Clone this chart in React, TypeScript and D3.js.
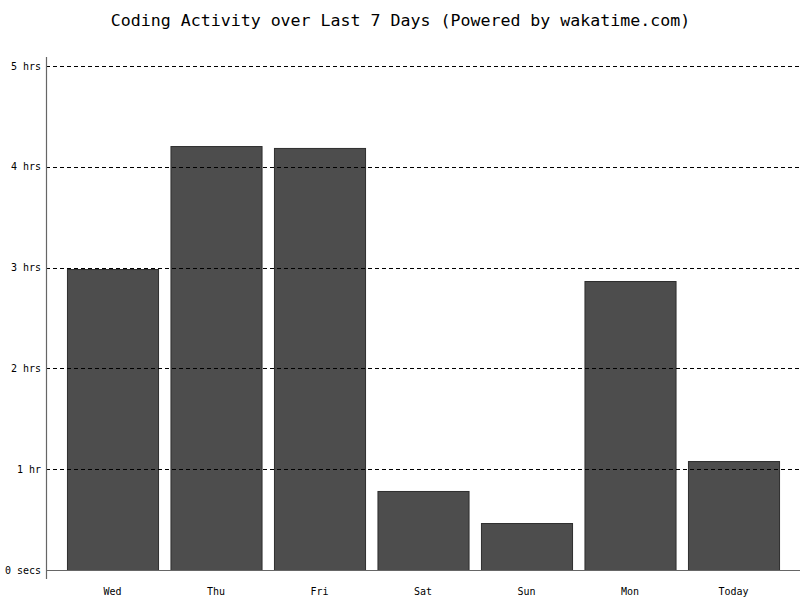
import React from "react";
import * as d3 from "d3";

const categories = ["Wed", "Thu", "Fri", "Sat", "Sun", "Mon", "Today"];
const hours = [2.986, 4.206, 4.187, 0.784, 0.466, 2.867, 1.081];
const tickValues = [0, 1, 2, 3, 4, 5];
const tickLabels = ["0 secs", "1 hr", "2 hrs", "3 hrs", "4 hrs", "5 hrs"];

const W = 800, H = 600;
const left = 46, right = 800, top = 66, bottom = 570;
const font = "'DejaVu Sans Mono', monospace";

export default function App() {
  const x = d3.scaleBand<string>().domain(categories).range([left, right]).paddingInner(0.12).paddingOuter(0.2025);
  const y = d3.scaleLinear().domain([0, 5]).range([bottom, top]);
  return (
    <svg width={W} height={H} style={{ position: "absolute", left: 0, top: 0 }}>
      <rect width={W} height={H} fill="#fff" />
      <text x={400.5} y={26} textAnchor="middle" fontFamily={font} fontSize={16.6} fill="#000">
        Coding Activity over Last 7 Days (Powered by wakatime.com)
      </text>
      {categories.map((c, i) => (
        <rect key={c} x={x(c)! + 0.5} y={y(hours[i]) + 0.5} width={x.bandwidth()} height={bottom - y(hours[i])}
          fill="#4d4d4d" stroke="#2e2e2e" strokeWidth={1} />
      ))}
      {tickValues.slice(1).map((t) => (
        <line key={t} x1={left} x2={right} y1={Math.round(y(t)) + 0.5} y2={Math.round(y(t)) + 0.5}
          stroke="#000" strokeWidth={1} strokeDasharray="4,3" />
      ))}
      <line x1={left} x2={right} y1={bottom + 0.5} y2={bottom + 0.5} stroke="#666" strokeWidth={1.2} />
      <line x1={left + 0.5} x2={left + 0.5} y1={57} y2={579} stroke="#666" strokeWidth={1.2} />
      {tickValues.map((t, i) => (
        <text key={t} x={41} y={y(t) + 3.5} textAnchor="end" fontFamily={font} fontSize={10} fill="#000">
          {tickLabels[i]}
        </text>
      ))}
      {categories.map((c) => (
        <text key={c} x={x(c)! + x.bandwidth() / 2} y={595} textAnchor="middle" fontFamily={font} fontSize={10} fill="#000">
          {c}
        </text>
      ))}
    </svg>
  );
}
